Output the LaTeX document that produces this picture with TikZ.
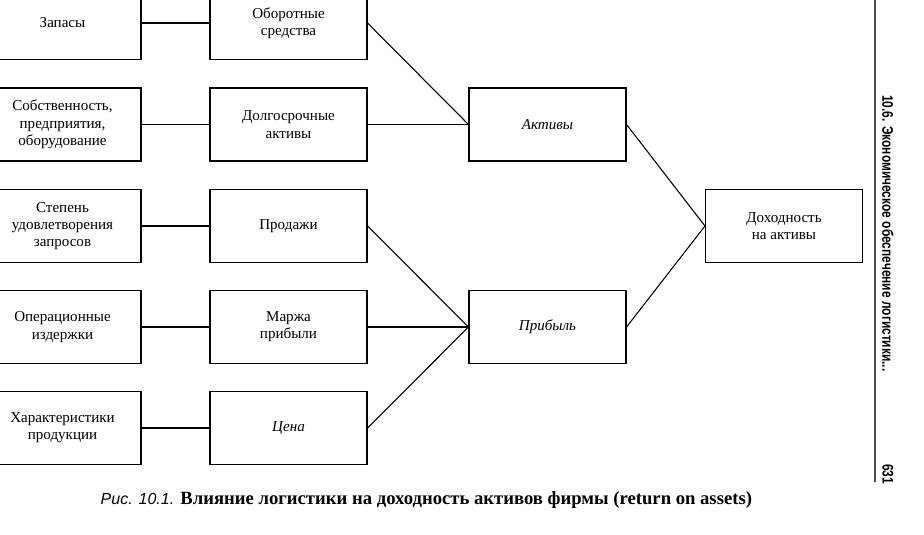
\documentclass[tikz,border=0pt]{standalone}
\usepackage{fontspec}
\setmainfont{Liberation Serif}
\setsansfont{Liberation Sans}
\begin{document}
\begin{tikzpicture}[x=0.75pt, y=-0.75pt,
  blok/.style={draw, line width=0.8pt, minimum width=117.75pt, minimum height=54.75pt,
    align=center, inner sep=2pt, font=\fontsize{11.3}{13}\selectfont},
  svyaz/.style={line width=0.8pt},
  kolontitul/.style={rotate=-90, anchor=west, inner sep=0pt, font=\sffamily\bfseries\fontsize{11.5}{13}\selectfont}]
\useasboundingbox (0,0) rectangle (924,535);
\clip (0,0) rectangle (924,535);
  % first column
  \node [blok] (zapasy) at (62.5, 23) {Запасы};
  \node [blok] (sobstv) at (62.5, 124.5) {Собственность,\\предприятия,\\оборудование};
  \node [blok] (stepen) at (62.5, 226) {Степень\\удовлетворения\\запросов};
  \node [blok] (operiz) at (62.5, 327) {Операционные\\издержки};
  \node [blok] (harakt) at (62.5, 428) {Характеристики\\продукции};
  % second column
  \node [blok] (oborot) at (288.5, 23) {Оборотные\\средства};
  \node [blok] (dolgo) at (288.5, 124.5) {Долгосрочные\\активы};
  \node [blok] (prodazhi) at (288.5, 226) {Продажи};
  \node [blok] (marzha) at (288.5, 327) {Маржа\\прибыли};
  \node [blok] (cena) at (288.5, 428) {\textit{Цена}};
  % third and fourth column
  \node [blok] (aktivy) at (547.5, 124.5) {\textit{Активы}};
  \node [blok] (pribyl) at (547.5, 327) {\textit{Прибыль}};
  \node [blok] (dohod) at (784, 226) {Доходность\\на активы};
  \draw [svyaz] (zapasy) to (oborot);
  \draw [svyaz] (sobstv) to (dolgo);
  \draw [svyaz] (stepen) to (prodazhi);
  \draw [svyaz] (operiz) to (marzha);
  \draw [svyaz] (harakt) to (cena);
  \draw [svyaz] (oborot.east) to (aktivy.west);
  \draw [svyaz] (dolgo.east) to (aktivy.west);
  \draw [svyaz] (prodazhi.east) to (pribyl.west);
  \draw [svyaz] (marzha.east) to (pribyl.west);
  \draw [svyaz] (cena.east) to (pribyl.west);
  \draw [svyaz] (aktivy.east) to (dohod.west);
  \draw [svyaz] (pribyl.east) to (dohod.west);
  % caption and page margin
  \node [anchor=west, font=\fontsize{14}{16}\selectfont] (podpis) at (96, 500)
    {{\sffamily\itshape\fontsize{12}{16}\selectfont Рис. 10.1.} \textbf{Влияние логистики на доходность активов фирмы (return on assets)}};
  \coordinate (polaA) at (875, 0);
  \coordinate (polaB) at (875, 482);
  \draw [line width=1pt, black!70] (polaA) to (polaB);
  \node [kolontitul] (razdel) at (888, 95)
    {\scalebox{0.78}[1]{10.6. Экономическое обеспечение логистики...}};
  \node [kolontitul] (stranica) at (888, 464)
    {\scalebox{0.78}[1]{631}};
\end{tikzpicture}
\end{document}
